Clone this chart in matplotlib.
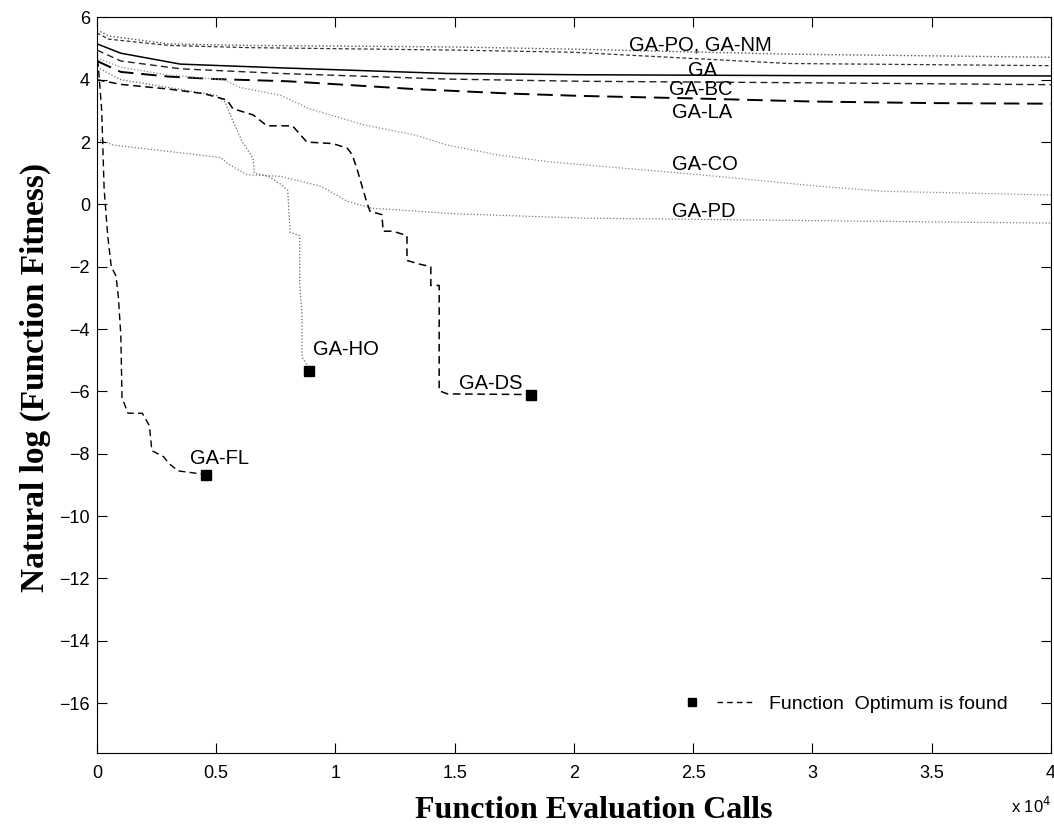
import matplotlib
matplotlib.use("Agg")
import matplotlib.pyplot as plt
from matplotlib.lines import Line2D
from matplotlib.legend_handler import HandlerTuple

plt.rcParams["font.family"] = ["Liberation Sans", "DejaVu Sans"]

# x in units of 10^4 function evaluation calls, y = ln(fitness)
po_x = [0, 0.05, 0.3, 0.63, 1.5, 2.0, 2.9, 4.0]
po_y = [5.6, 5.4, 5.15, 5.1, 5.05, 4.98, 4.82, 4.72]
nm_x = [0, 0.05, 0.3, 0.63, 1.5, 2.0, 2.9, 4.0]
nm_y = [5.5, 5.3, 5.1, 5.03, 4.95, 4.88, 4.52, 4.45]
ga_x = [0, 0.1, 0.35, 0.77, 1.47, 2.0, 3.0, 4.0]
ga_y = [5.15, 4.85, 4.5, 4.38, 4.2, 4.16, 4.13, 4.12]
bc_x = [0, 0.1, 0.35, 0.77, 1.47, 2.03, 3.0, 4.0]
bc_y = [4.95, 4.6, 4.35, 4.2, 4.02, 3.95, 3.9, 3.84]
la_x = [0, 0.1, 0.3, 0.5, 0.8, 1.33, 1.75, 2.03, 2.5, 3.0, 3.5, 4.0]
la_y = [4.6, 4.25, 4.1, 4.02, 3.95, 3.7, 3.55, 3.48, 3.4, 3.3, 3.25, 3.23]
co_x = [0, 0.1, 0.3, 0.53, 0.6, 0.77, 0.89, 1.12, 1.33, 1.47, 1.68, 1.89, 2.3, 2.6, 3.0, 3.3, 3.6, 4.0]
co_y = [4.7, 4.4, 4.15, 4.0, 3.75, 3.5, 3.07, 2.55, 2.23, 1.9, 1.59, 1.37, 1.1, 0.9, 0.6, 0.42, 0.37, 0.3]
pd_x = [0, 0.07, 0.3, 0.52, 0.55, 0.63, 0.77, 0.94, 1.05, 1.15, 1.5, 2.03, 3.0, 4.0]
pd_y = [2.1, 1.9, 1.7, 1.5, 1.3, 0.95, 0.9, 0.58, 0.1, -0.12, -0.3, -0.44, -0.52, -0.6]
ho_x = [0, 0.1, 0.3, 0.5, 0.537, 0.56, 0.61, 0.655, 0.66, 0.72, 0.77, 0.80, 0.81, 0.85, 0.85, 0.86, 0.86, 0.885]
ho_y = [4.4, 4.0, 3.75, 3.5, 3.29, 2.85, 2.0, 1.47, 1.0, 0.9, 0.65, 0.45, -0.9, -1.0, -2.5, -3.6, -4.9, -5.2]
ds_x = [0, 0.1, 0.3, 0.45, 0.545, 0.57, 0.655, 0.713, 0.82, 0.88, 0.99, 1.05, 1.07, 1.09, 1.13, 1.145,
        1.195, 1.20, 1.24, 1.30, 1.30, 1.355, 1.40, 1.40, 1.435, 1.435, 1.47, 1.81]
ds_y = [4.0, 3.85, 3.7, 3.55, 3.35, 3.07, 2.87, 2.52, 2.52, 2.0, 1.95, 1.8, 1.6, 1.15, 0.1, -0.22,
        -0.33, -0.86, -0.86, -1.0, -1.8, -1.92, -2.0, -2.6, -2.6, -5.98, -6.08, -6.1]
fl_x = [0, 0.02, 0.03, 0.045, 0.06, 0.08, 0.09, 0.10, 0.105, 0.13, 0.19, 0.22, 0.23, 0.28, 0.30, 0.34, 0.44]
fl_y = [5.0, 3.0, 0.5, -1.0, -2.0, -2.3, -3.0, -4.2, -6.2, -6.7, -6.7, -7.1, -7.9, -8.1, -8.3, -8.55, -8.65]

# optimum found markers
opt_x = [0.457, 0.89, 1.82]
opt_y = [-8.67, -5.36, -6.1]

labels = ["GA-PO, GA-NM", "GA", "GA-BC", "GA-LA", "GA-CO", "GA-PD", "GA-HO", "GA-DS", "GA-FL"]
label_x = [2.23, 2.48, 2.40, 2.41, 2.41, 2.41, 0.906, 1.52, 0.39]
label_y = [5.1, 4.31, 3.67, 2.94, 1.28, -0.22, -4.67, -5.76, -8.15]

dot = (0, (1, 1.6))
dash = (0, (5, 3))

fig = plt.figure(figsize=(10.54, 8.27), dpi=100)
ax = fig.add_axes([0.092, 0.0895, 0.905, 0.8895])

ax.plot(po_x, po_y, color="#555555", ls=dot, lw=1.0)
ax.plot(nm_x, nm_y, color="#333333", ls=(0, (3, 2)), lw=0.9)
ax.plot(ga_x, ga_y, color="black", ls="-", lw=1.1)
ax.plot(bc_x, bc_y, color="#222222", ls=dash, lw=1.0)
ax.plot(la_x, la_y, color="black", ls=(0, (8, 4)), lw=1.4)
ax.plot(co_x, co_y, color="#888888", ls=dot, lw=0.9)
ax.plot(pd_x, pd_y, color="#777777", ls=dot, lw=0.9)
ax.plot(ho_x, ho_y, color="#666666", ls=dot, lw=0.9)
ax.plot(ds_x, ds_y, color="black", ls=dash, lw=1.1)
ax.plot(fl_x, fl_y, color="black", ls=dash, lw=1.0)
ax.plot(opt_x, opt_y, ls="none", marker="s", ms=7, color="black")

for t, x, y in zip(labels, label_x, label_y):
    ax.text(x, y, t, fontsize=14.5, va="center", ha="left")

mk = Line2D([], [], ls="none", marker="s", ms=6, color="black")
dl = Line2D([], [], ls=(0, (4, 3)), lw=1.0, color="black")
ax.legend([(mk, dl)], ["Function  Optimum is found"], handler_map={tuple: HandlerTuple(ndivide=None, pad=0.3)},
          loc="center left", bbox_to_anchor=(0.603, 0.067), frameon=False, fontsize=14, handlelength=4.3,
          handletextpad=0.7, borderaxespad=0, borderpad=0)

ax.set_xlim(0, 4)
ax.set_ylim(-17.6, 6)
ax.set_xticks([0, 0.5, 1, 1.5, 2, 2.5, 3, 3.5, 4])
ax.set_xticklabels(["0", "0.5", "1", "1.5", "2", "2.5", "3", "3.5", "4"])
ax.set_yticks(range(-16, 7, 2))
ax.tick_params(direction="in", top=True, right=True, length=7, labelsize=13)
ax.tick_params(axis="x", pad=9)
ax.tick_params(axis="y", pad=5)
ax.text(1.0, -0.072, "x 10$^{4}$", transform=ax.transAxes, ha="right", va="center", fontsize=12)

ax.set_xlabel("Function Evaluation Calls", family="Liberation Serif", fontweight="bold", fontsize=23)
ax.set_ylabel("Natural log (Function Fitness)", family="Liberation Serif", fontweight="bold", fontsize=24)
ax.xaxis.set_label_coords(0.521, -0.059)
ax.yaxis.set_label_coords(-0.048, 0.51)

fig.savefig("out.png", dpi=100)
